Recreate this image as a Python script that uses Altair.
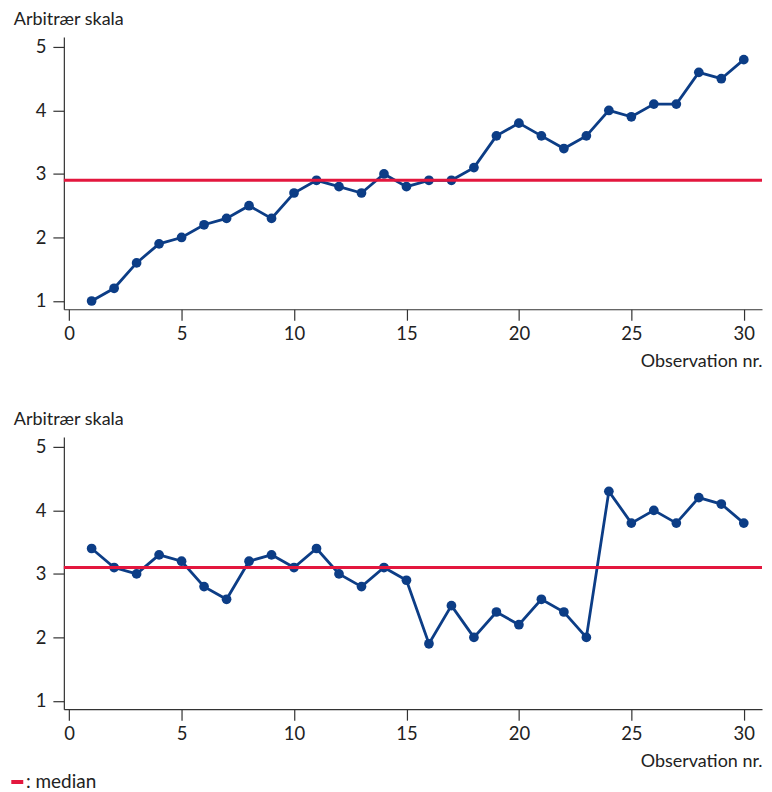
import altair as alt
import pandas as pd

# ---- data ----
obs = list(range(1, 31))
values_top = [1.0, 1.2, 1.6, 1.9, 2.0, 2.2, 2.3, 2.5, 2.3, 2.7,
              2.9, 2.8, 2.7, 3.0, 2.8, 2.9, 2.9, 3.1, 3.6, 3.8,
              3.6, 3.4, 3.6, 4.0, 3.9, 4.1, 4.1, 4.6, 4.5, 4.8]
values_bottom = [3.4, 3.1, 3.0, 3.3, 3.2, 2.8, 2.6, 3.2, 3.3, 3.1,
                 3.4, 3.0, 2.8, 3.1, 2.9, 1.9, 2.5, 2.0, 2.4, 2.2,
                 2.6, 2.4, 2.0, 4.3, 3.8, 4.0, 3.8, 4.2, 4.1, 3.8]
median_top = [2.9]
median_bottom = [3.1]
x_ticks = [0, 5, 10, 15, 20, 25, 30]
y_ticks = [1, 2, 3, 4, 5]
y_title = "Arbitrær skala"
x_title = "Observation nr."
legend_label = [": median"]

BLUE = "#0c3d86"
RED = "#e3173e"
FONT = "Lato"
W, H = 700, 273
XDOM = [-0.235, 30.81]
YDOM = [0.87, 5.157]


def panel(values, median, legend=False):
    df = pd.DataFrame({"obs": obs, "val": values})
    mdf = pd.DataFrame({"m": median})
    x = alt.X(
        "obs:Q",
        scale=alt.Scale(domain=XDOM, nice=False, zero=False),
        axis=alt.Axis(values=x_ticks, title=x_title, titleAlign="right",
                      titleX=W, titleY=52, titleBaseline="middle",
                      labelPadding=4, format="d"),
    )
    y = alt.Y(
        "val:Q",
        scale=alt.Scale(domain=YDOM, nice=False, zero=False),
        axis=alt.Axis(values=y_ticks, title=y_title, titleAngle=0,
                      titleAlign="left", titleX=-50.7, titleY=-17,
                      titleBaseline="middle", labelPadding=7, format="d"),
    )
    base = alt.Chart(df)
    line = base.mark_line(color=BLUE, strokeWidth=2.8).encode(x=x, y=y)
    pts = base.mark_circle(size=95, color=BLUE, opacity=1).encode(x=x, y=y)
    rule = alt.Chart(mdf).mark_rule(color=RED, strokeWidth=3).encode(
        y=alt.Y("m:Q", scale=alt.Scale(domain=YDOM, nice=False, zero=False))
    )
    layers = [line, pts, rule]
    if legend:
        ldf = pd.DataFrame({"label": legend_label})
        dash = alt.Chart(ldf).mark_rect(color=RED).encode(
            x=alt.value(-52.7), x2=alt.value(-40.7),
            y=alt.value(344), y2=alt.value(348)
        )
        txt = alt.Chart(ldf).mark_text(
            align="left", baseline="middle", font=FONT, fontSize=19, color="#222"
        ).encode(x=alt.value(-38), y=alt.value(346), text="label:N")
        layers += [dash, txt]
    return alt.layer(*layers).properties(width=W, height=H)


chart = alt.vconcat(
    panel(values_top, median_top),
    panel(values_bottom, median_bottom, legend=True),
    spacing=128,
    bounds="flush",
).properties(
    padding={"left": 2, "top": 1, "right": 0, "bottom": 0}
).configure_view(
    stroke="transparent"
).configure_axis(
    grid=False,
    domainColor="#333",
    tickColor="#333",
    domainWidth=1.2,
    tickWidth=1.2,
    tickSize=11,
    labelFont=FONT,
    labelFontSize=18.5,
    labelColor="#222",
    titleFont=FONT,
    titleFontSize=18,
    titleFontWeight="normal",
    titleColor="#222",
)

chart.save("out.html", embed_options={"renderer": "svg", "actions": False})
